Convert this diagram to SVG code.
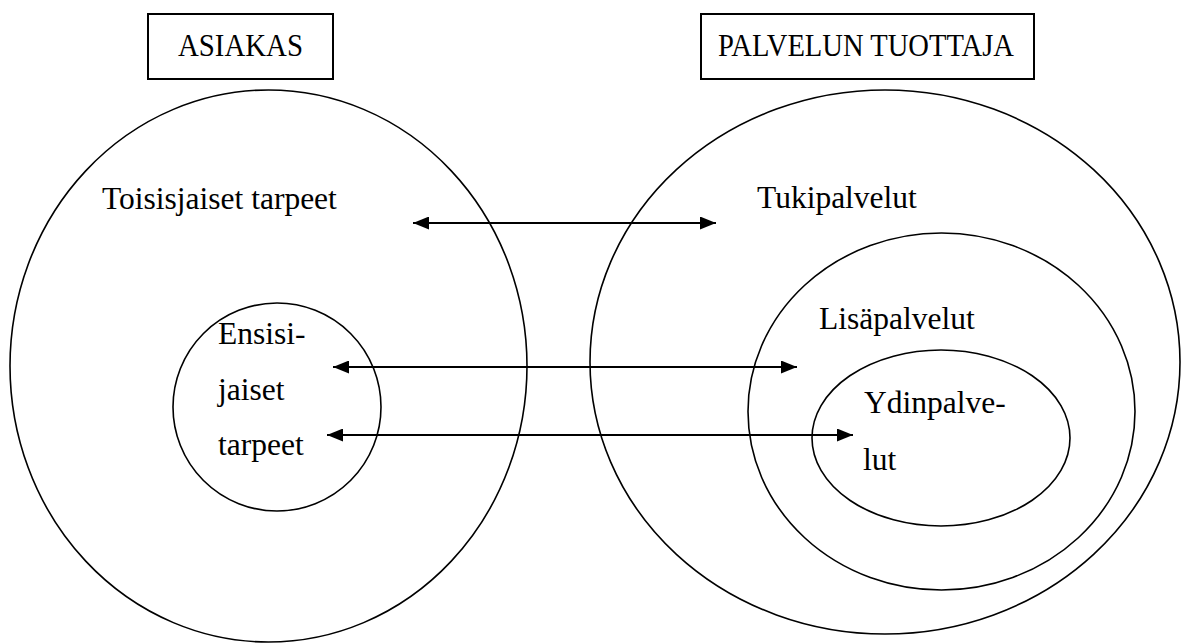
<svg xmlns="http://www.w3.org/2000/svg" width="1185" height="644" viewBox="0 0 1185 644">
<style>
.t{font-family:"Liberation Serif","Times New Roman",serif;font-size:31.5px;fill:#000}
.box{fill:none;stroke:#000;stroke-width:2}
.ell{fill:none;stroke:#000;stroke-width:1.6}
.arr{stroke:#000;stroke-width:2.2;fill:none;marker-start:url(#ah);marker-end:url(#ah)}
</style>
<defs>
<marker id="ah" viewBox="0 0 16 13" refX="16" refY="6.5" markerWidth="16" markerHeight="13" markerUnits="userSpaceOnUse" orient="auto-start-reverse">
<path d="M0,0 L16,6.5 L0,13 Z" fill="#000"/>
</marker>
</defs>
<rect width="1185" height="644" fill="#fff"/>
<g id="asiakas-label">
<rect class="box" x="148" y="14" width="185" height="65"/>
<text class="t" x="178" y="56" textLength="125" lengthAdjust="spacingAndGlyphs">ASIAKAS</text>
</g>
<g id="tuottaja-label">
<rect class="box" x="701" y="14" width="333" height="65"/>
<text class="t" x="718" y="56" textLength="296" lengthAdjust="spacingAndGlyphs">PALVELUN TUOTTAJA</text>
</g>
<g id="toisisjaiset">
<ellipse class="ell" cx="268.5" cy="366" rx="258.5" ry="276"/>
<text class="t" x="102" y="209">Toisisjaiset tarpeet</text>
</g>
<g id="ensisijaiset">
<ellipse class="ell" cx="277" cy="407" rx="104" ry="104"/>
<text class="t" x="218" y="344">Ensisi-</text>
<text class="t" x="218" y="400">jaiset</text>
<text class="t" x="218" y="455">tarpeet</text>
</g>
<g id="tukipalvelut">
<ellipse class="ell" cx="885" cy="362" rx="295" ry="272"/>
<text class="t" x="757" y="208">Tukipalvelut</text>
</g>
<g id="lisapalvelut">
<ellipse class="ell" cx="941.5" cy="411.5" rx="193.5" ry="178.5"/>
<text class="t" x="819" y="329">Lisäpalvelut</text>
</g>
<g id="ydinpalvelut">
<ellipse class="ell" cx="941" cy="438" rx="129" ry="88"/>
<text class="t" x="864" y="413">Ydinpalve-</text>
<text class="t" x="863" y="470">lut</text>
</g>
<g id="connectors">
<line class="arr" x1="413" y1="223" x2="716" y2="223"/>
<line class="arr" x1="333" y1="367" x2="797" y2="367"/>
<line class="arr" x1="327" y1="435" x2="853" y2="435"/>
</g>
</svg>
